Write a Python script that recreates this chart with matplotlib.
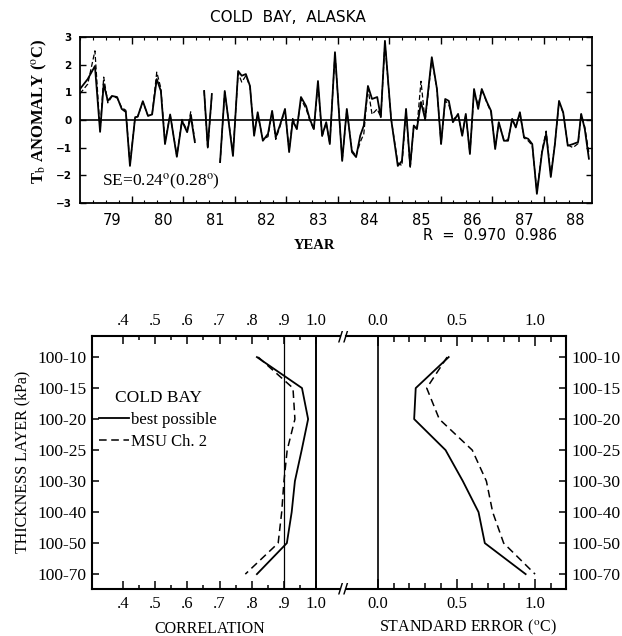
import numpy as np
import matplotlib
matplotlib.use("Agg")
import matplotlib.pyplot as plt
import matplotlib.transforms as mtransforms

plt.rcParams['mathtext.fontset'] = 'stix'
SERIF = 'Liberation Serif'
SANS = 'DejaVu Sans'

# --- top panel: Tb anomaly time series (year fraction, deg C) ---
years = [78.38, 78.53, 78.67, 78.77, 78.84, 78.92, 79.00, 79.10, 79.19, 79.27,
         79.35, 79.45, 79.50, 79.60, 79.70, 79.78, 79.87, 79.95, 80.03, 80.13,
         80.26, 80.36, 80.46, 80.53, 80.61, 80.70, 80.79, 80.86, 80.94, 81.02,
         81.10, 81.19, 81.35, 81.45, 81.52, 81.60, 81.68, 81.76, 81.83, 81.93,
         82.03, 82.11, 82.18, 82.26, 82.36, 82.44, 82.51, 82.59, 82.67, 82.77,
         82.84, 82.92, 83.00, 83.08, 83.16, 83.23, 83.33, 83.47, 83.56, 83.66,
         83.74, 83.82, 83.89, 83.97, 84.05, 84.15, 84.22, 84.30, 84.42, 84.55,
         84.63, 84.71, 84.79, 84.86, 84.92, 85.00, 85.08, 85.21, 85.31, 85.39,
         85.47, 85.54, 85.62, 85.72, 85.80, 85.87, 85.95, 86.03, 86.11, 86.18,
         86.28, 86.36, 86.44, 86.51, 86.61, 86.69, 86.77, 86.84, 86.92, 87.00,
         87.08, 87.16, 87.25, 87.35, 87.43, 87.52, 87.60, 87.68, 87.76, 87.85,
         87.95, 88.05, 88.11, 88.18, 88.26]
tb_best = [1.12, 1.48, 1.95, -0.43, 1.30, 0.69, 0.87, 0.83, 0.40, 0.29,
           -1.66, 0.10, 0.12, 0.68, 0.15, 0.20, 1.48, 1.05, -0.87, 0.20,
           -1.33, -0.03, -0.44, 0.14, -0.80, np.nan, 1.05, -0.98, 0.94, np.nan,
           -1.52, 1.05, -1.30, 1.77, 1.60, 1.66, 1.23, -0.57, 0.28, -0.75,
           -0.50, 0.33, -0.62, -0.20, 0.40, -1.16, -0.03, -0.33, 0.83, 0.50,
           0.04, -0.33, 1.41, -0.57, -0.08, -0.87, 2.45, -1.48, 0.40, -1.16,
           -1.34, -0.57, -0.20, 1.23, 0.76, 0.83, 0.10, 2.86, 0.04, -1.66,
           -1.48, 0.40, -1.66, -0.20, -0.33, 0.65, 0.04, 2.27, 1.12, -0.87,
           0.76, 0.69, -0.08, 0.22, -0.57, 0.22, -1.23, 1.12, 0.40, 1.12,
           0.65, 0.33, -1.05, -0.08, -0.75, -0.75, 0.04, -0.27, 0.28, -0.62,
           -0.68, -0.87, -2.67, -1.16, -0.50, -2.06, -0.87, 0.69, 0.28, -0.93,
           -0.87, -0.80, 0.22, -0.33, -1.40]
tb_msu = [0.95, 1.30, 2.50, -0.40, 1.55, 0.62, 0.85, 0.80, 0.45, 0.35,
          -1.60, 0.10, 0.12, 0.66, 0.15, 0.20, 1.73, 1.15, -0.80, 0.20,
          -1.30, 0.02, -0.40, 0.30, -0.75, np.nan, 1.05, -1.05, 0.90, np.nan,
          -1.55, 1.00, -1.20, 1.70, 1.37, 1.60, 1.20, -0.50, 0.20, -0.70,
          -0.60, 0.30, -0.70, -0.25, 0.35, -1.10, 0.05, -0.30, 0.75, 0.40,
          0.00, -0.35, 1.30, -0.60, -0.10, -0.85, 2.40, -1.45, 0.35, -1.10,
          -1.30, -0.80, -0.50, 1.15, 0.20, 0.40, 0.10, 2.80, 0.04, -1.55,
          -1.65, 0.35, -1.75, -0.20, -0.30, 1.40, -0.05, 2.20, 1.10, -0.85,
          0.70, 0.55, 0.00, 0.20, -0.55, 0.20, -1.20, 1.00, 0.55, 1.10,
          0.62, 0.28, -1.00, -0.10, -0.72, -0.72, 0.02, -0.25, 0.25, -0.65,
          -0.75, -0.92, -2.60, -1.10, -0.40, -2.00, -0.85, 0.65, 0.25, -0.90,
          -1.00, -0.85, 0.20, -0.25, -1.20]
year_labels = [79, 80, 81, 82, 83, 84, 85, 86, 87, 88]

# --- bottom panels: thickness layers ---
layers = ['100-10', '100-15', '100-20', '100-25', '100-30', '100-40', '100-50', '100-70']
corr_best = [0.816, 0.956, 0.975, 0.955, 0.934, 0.924, 0.909, 0.816]
corr_msu = [0.820, 0.928, 0.934, 0.910, 0.900, 0.893, 0.882, 0.780]
se_best = [0.45, 0.24, 0.23, 0.43, 0.54, 0.64, 0.68, 0.94]
se_msu = [0.44, 0.31, 0.39, 0.60, 0.69, 0.73, 0.80, 1.00]

fig = plt.figure(figsize=(6.22, 6.36), dpi=100)
W, H = 622.0, 636.0


def box(l, t, r, b):
    return [l / W, 1 - b / H, (r - l) / W, (b - t) / H]


# ================= top panel =================
ax = fig.add_axes(box(80, 37, 592, 203))
ax.plot(years, tb_msu, color='black', lw=0.9, ls=(0, (4, 2)))
ax.plot(years, tb_best, color='black', lw=1.3)
ax.axhline(0, color='black', lw=1.2)
x0, x1 = 78.38, 88.32
ax.set_xlim(x0, x1)
ax.set_ylim(-3, 3)
ax.set_xticks(np.arange(79.38, x1, 1.0))
ax.set_xticks(np.arange(x0, x1, 0.25), minor=True)
ax.tick_params(axis='x', which='major', direction='in', length=5, width=1,
               top=True, bottom=True, labelbottom=False)
ax.tick_params(axis='x', which='minor', direction='in', length=2.5, width=0.8,
               top=True, bottom=True)
ax.set_yticks(range(-3, 4))
ax.tick_params(axis='y', direction='in', length=4, width=1, left=True, right=True,
               labelsize=7.5, pad=6)
for lab in ax.get_yticklabels():
    lab.set_fontfamily(SANS)
    lab.set_fontweight('bold')
for s in ax.spines.values():
    s.set_linewidth(1.3)
trans = mtransforms.blended_transform_factory(ax.transData, ax.transAxes)
for y in year_labels:
    ax.text(y, -0.108, str(y), transform=trans, ha='center', va='center',
            fontsize=10.5, family=SANS)

fig.text(288 / W, 1 - 17 / H, 'COLD  BAY,  ALASKA', ha='center', va='center',
         fontsize=11, family=SANS)
fig.text(40 / W, 1 - 111 / H, r'T$_{\rm b}$ ANOMALY ($^{\rm o}$C)', rotation=90,
         ha='center', va='center', fontsize=12, family=SERIF, weight='bold')
fig.text(314 / W, 1 - 245 / H, 'YEAR', ha='center', va='center', fontsize=10.5,
         family=SERIF, weight='bold')
fig.text(490 / W, 1 - 236 / H, 'R  =  0.970  0.986', ha='center', va='center',
         fontsize=10.5, family=SANS)
fig.text(102 / W, 1 - 182 / H, r'SE=0.24$^{\rm o}$(0.28$^{\rm o}$)', ha='left',
         va='center', fontsize=12.5, family=SERIF)

# ================= bottom panels =================
ypos = np.arange(len(layers))
axl = fig.add_axes(box(92, 336, 340, 589))
axr = fig.add_axes(box(346, 336, 566, 589))

axl.plot(corr_best, ypos, color='black', lw=1.3, label='best possible')
axl.plot(corr_msu, ypos, color='black', lw=1.1, ls=(0, (5, 3)), label='MSU Ch. 2')
axl.axvline(0.9, color='black', lw=0.9)
axl.axvline(1.0, color='black', lw=1.4)
axl.set_xlim(0.304, 1.074)
axl.set_ylim(7.48, -0.68)
axl.set_xticks(np.arange(0.4, 1.01, 0.1))
axl.set_xticklabels(['.4', '.5', '.6', '.7', '.8', '.9', '1.0'])
axl.set_xticks(np.arange(0.45, 0.96, 0.1), minor=True)
axl.set_yticks(ypos)
axl.set_yticklabels(layers)
axl.spines['right'].set_visible(False)
axl.tick_params(axis='x', which='major', direction='in', length=6, width=1.1,
                top=True, bottom=True, labeltop=True, labelsize=12, pad=5)
axl.tick_params(axis='x', which='minor', direction='in', length=3, width=1.1,
                top=True, bottom=True)
axl.tick_params(axis='y', direction='in', length=5, width=1.1, left=True,
                right=False, labelsize=12.5, pad=4)
leg = axl.legend(title='COLD BAY', loc='upper left', bbox_to_anchor=(0.03, 0.785),
                 frameon=False, borderpad=0, borderaxespad=0, handlelength=1.75,
                 handletextpad=0.15, labelspacing=0.35,
                 prop={'family': SERIF, 'size': 12})
leg.get_title().set_fontfamily(SERIF)
leg.get_title().set_fontsize(12.5)

axr.plot(se_best, ypos, color='black', lw=1.3)
axr.plot(se_msu, ypos, color='black', lw=1.1, ls=(0, (5, 3)))
axr.axvline(0.0, color='black', lw=1.2)
axr.set_xlim(-0.204, 1.197)
axr.set_ylim(7.48, -0.68)
axr.set_xticks([0.0, 0.5, 1.0])
axr.set_xticklabels(['0.0', '0.5', '1.0'])
axr.set_xticks([0.1, 0.2, 0.3, 0.4, 0.6, 0.7, 0.8, 0.9, 1.1], minor=True)
axr.set_yticks(ypos)
axr.set_yticklabels(layers)
axr.spines['left'].set_visible(False)
axr.tick_params(axis='x', which='major', direction='in', length=7, width=1.1,
                top=True, bottom=True, labeltop=True, labelsize=12, pad=5)
axr.tick_params(axis='x', which='minor', direction='in', length=4, width=1.1,
                top=True, bottom=True)
axr.tick_params(axis='y', direction='in', length=5, width=1.1, left=False,
                right=True, labelleft=False, labelright=True, labelsize=12.5, pad=4)

for a in (axl, axr):
    for s in a.spines.values():
        s.set_linewidth(1.5)
    for lab in a.get_xticklabels() + a.get_yticklabels():
        lab.set_fontfamily(SERIF)

# axis break marks
for yb in (336, 589):
    fig.text(343 / W, 1 - yb / H, '//', ha='center', va='center', fontsize=10,
             family=SANS, weight='bold')

fig.text(22 / W, 1 - 462 / H, 'THICKNESS LAYER (kPa)', rotation=90, ha='center',
         va='center', fontsize=11.5, family=SERIF)
fig.text(210 / W, 1 - 629 / H, 'CORRELATION', ha='center', va='center',
         fontsize=11.5, family=SERIF)
fig.text(468 / W, 1 - 627 / H, r'STANDARD ERROR ($^{\rm o}$C)', ha='center',
         va='center', fontsize=11.5, family=SERIF)

fig.savefig('out.png', dpi=100)
